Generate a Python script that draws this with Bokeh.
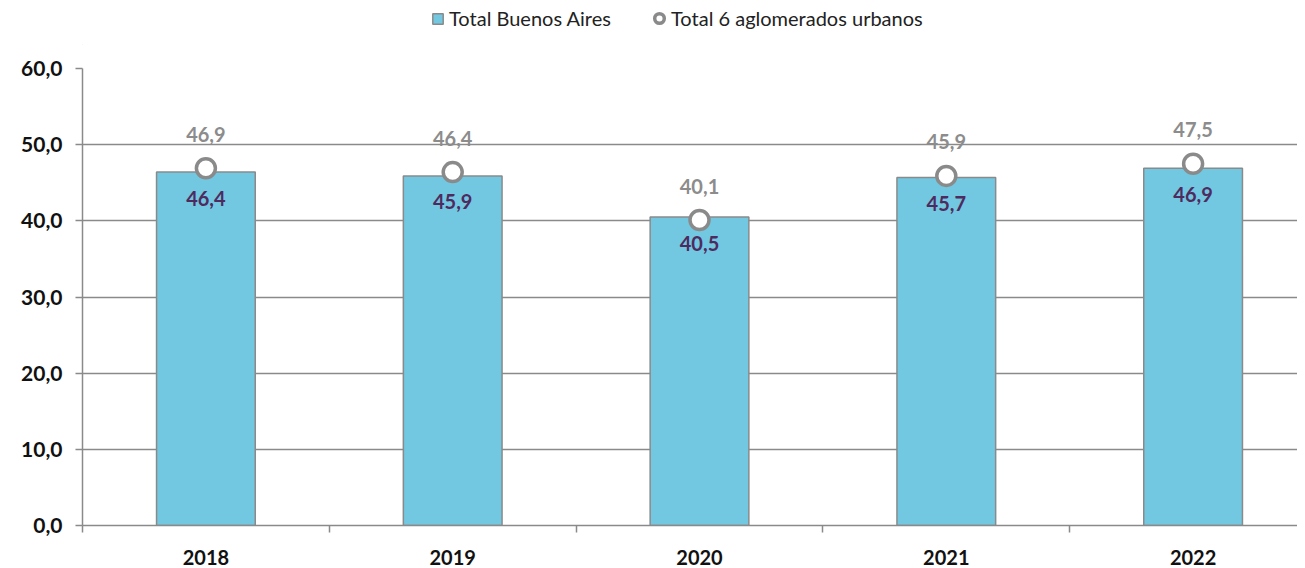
from bokeh.plotting import figure
from bokeh.layouts import column
from bokeh.models import ColumnDataSource, FixedTicker, Legend, LegendItem
from bokeh.core.properties import value
from bokeh.embed import file_html
from bokeh.resources import INLINE

years = ["2018", "2019", "2020", "2021", "2022"]
buenos_aires = [46.4, 45.9, 40.5, 45.7, 46.9]
aglomerados = [46.9, 46.4, 40.1, 45.9, 47.5]
y_ticks = [0, 10, 20, 30, 40, 50, 60]
series_names = ["Total Buenos Aires", "Total 6 aglomerados urbanos"]

FONT = "Lato"
BAR_COLOR = "#72C7E1"
GRAY = "#8A8A8A"

def fmt(v):
    return f"{v:.1f}".replace(".", ",")

xs = list(range(len(years)))
src = ColumnDataSource(dict(
    x=xs,
    ba=buenos_aires,
    ag=aglomerados,
    ba_lbl=[fmt(v) for v in buenos_aires],
    ag_lbl=[fmt(v) for v in aglomerados],
))

p = figure(width=1297, height=522, x_range=(-0.5, 4.423), y_range=(0, 60),
           output_backend="svg", toolbar_location=None,
           min_border_left=82, min_border_right=0, min_border_top=23, min_border_bottom=42)
p.outline_line_color = None
p.background_fill_color = "white"

bars = p.vbar(x="x", top="ba", width=0.4, source=src, fill_color=BAR_COLOR,
              line_color=GRAY, line_width=1.5)
dots = p.scatter(x="x", y="ag", source=src, size=19, fill_color="white",
                 line_color=GRAY, line_width=3.5)

p.text(x="x", y="ag", text="ag_lbl", source=src, text_align="center",
       text_baseline="middle", y_offset=-34, text_font=value(FONT),
       text_font_style="bold", text_font_size="20px", text_color="#8C8C8C")
p.text(x="x", y="ba", text="ba_lbl", source=src, text_align="center",
       text_baseline="middle", y_offset=26, text_font=value(FONT),
       text_font_style="bold", text_font_size="20px", text_color="#4E2A5E")

# axes
p.yaxis.ticker = FixedTicker(ticks=y_ticks)
p.yaxis.major_label_overrides = {t: fmt(t) for t in y_ticks}
p.yaxis.major_label_text_font = FONT
p.yaxis.major_label_text_font_style = "bold"
p.yaxis.major_label_text_font_size = "21px"
p.yaxis.major_label_text_color = "#111111"
p.yaxis.axis_line_color = GRAY
p.yaxis.axis_line_width = 1.5
p.yaxis.major_tick_line_color = GRAY
p.yaxis.major_tick_line_width = 1.5
p.yaxis.major_tick_out = 7
p.yaxis.major_tick_in = 0
p.yaxis.minor_tick_line_color = None
p.yaxis.major_label_standoff = 13

p.xaxis.ticker = FixedTicker(ticks=xs, minor_ticks=[-0.5, 0.5, 1.5, 2.5, 3.5])
p.xaxis.major_label_overrides = {i: y for i, y in enumerate(years)}
p.xaxis.major_label_text_font = FONT
p.xaxis.major_label_text_font_style = "bold"
p.xaxis.major_label_text_font_size = "20px"
p.xaxis.major_label_text_color = "#111111"
p.xaxis.axis_line_color = GRAY
p.xaxis.axis_line_width = 1.5
p.xaxis.major_tick_line_color = None
p.xaxis.major_tick_out = 0
p.xaxis.minor_tick_line_color = GRAY
p.xaxis.minor_tick_line_width = 1.5
p.xaxis.minor_tick_out = 7
p.xaxis.minor_tick_in = 0
p.xaxis.major_label_standoff = 17

p.xgrid.grid_line_color = None
p.ygrid.ticker = FixedTicker(ticks=y_ticks)
p.ygrid.grid_line_color = GRAY
p.ygrid.grid_line_width = 1.5

# legend strip (separate small figure above the chart)
lg = figure(width=1297, height=45, x_range=(0, 1), y_range=(0, 1),
            output_backend="svg", toolbar_location=None,
            min_border_left=0, min_border_right=0, min_border_top=0, min_border_bottom=0)
lg.axis.visible = False
lg.grid.visible = False
lg.outline_line_color = None
# proxy glyphs placed outside the visible range, used only for legend swatches
proxy = ColumnDataSource(dict(x=[-10], y=[-10]))
lb = lg.vbar(x="x", top="y", width=0.1, source=proxy, fill_color=BAR_COLOR,
             line_color=GRAY, line_width=1.5)
ld = lg.scatter(x="x", y="y", source=proxy, size=13, fill_color="white",
                line_color=GRAY, line_width=3.5)

common = dict(orientation="horizontal", label_text_font=FONT, label_text_font_size="20px",
              label_text_color="#222222", padding=0, margin=0,
              border_line_color=None, background_fill_alpha=0)
legend1 = Legend(items=[LegendItem(label=series_names[0], renderers=[lb])],
                 location=(349, 15), glyph_width=13, glyph_height=13, label_standoff=5,
                 **common)
legend2 = Legend(items=[LegendItem(label=series_names[1], renderers=[ld])],
                 location=(565, 15), glyph_width=24, glyph_height=24, label_standoff=0,
                 **common)
lg.add_layout(legend1)
lg.add_layout(legend2)

layout = column(lg, p, spacing=0)
open("out.html", "w").write(file_html(layout, INLINE))
